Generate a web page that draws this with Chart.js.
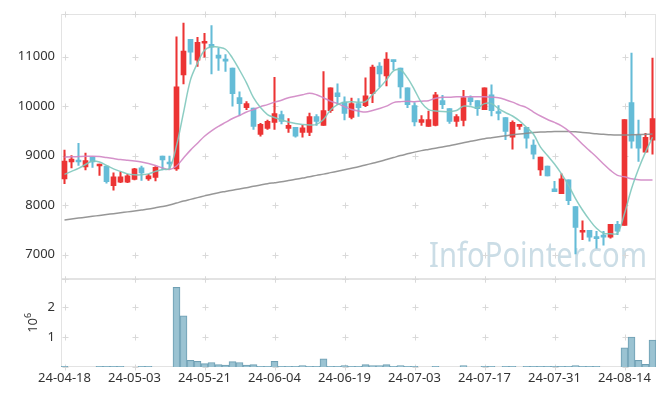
<!DOCTYPE html>
<html>
<head>
<meta charset="utf-8">
<script src="https://cdn.jsdelivr.net/npm/chart.js@4.4.1/dist/chart.umd.min.js"></script>
<style>
  html, body { margin: 0; padding: 0; background: #fff; }
  #wrap { width: 665px; height: 396px; }
</style>
</head>
<body>
<div id="wrap"><canvas id="stockChart" width="665" height="396"></canvas></div>
<script>
const dates = [
  '24-04-18','24-04-19','24-04-22','24-04-23','24-04-24','24-04-25','24-04-26','24-04-29','24-04-30','24-05-02',
  '24-05-03','24-05-07','24-05-08','24-05-09','24-05-10','24-05-13','24-05-14','24-05-16','24-05-17','24-05-20',
  '24-05-21','24-05-22','24-05-23','24-05-24','24-05-27','24-05-28','24-05-29','24-05-30','24-05-31','24-06-03',
  '24-06-04','24-06-05','24-06-07','24-06-10','24-06-11','24-06-12','24-06-13','24-06-14','24-06-17','24-06-18',
  '24-06-19','24-06-20','24-06-21','24-06-24','24-06-25','24-06-26','24-06-27','24-06-28','24-07-01','24-07-02',
  '24-07-03','24-07-04','24-07-05','24-07-08','24-07-09','24-07-10','24-07-11','24-07-12','24-07-15','24-07-16',
  '24-07-17','24-07-18','24-07-19','24-07-22','24-07-23','24-07-24','24-07-25','24-07-26','24-07-29','24-07-30',
  '24-07-31','24-08-01','24-08-02','24-08-05','24-08-06','24-08-07','24-08-08','24-08-09','24-08-12','24-08-13',
  '24-08-14','24-08-16','24-08-19','24-08-20','24-08-21'
];

const opens = [
  8530, 8870, 8910, 8770, 8970, 8790, 8790, 8390, 8460, 8460,
  8520, 8750, 8530, 8560, 8990, 8870, 8730, 10630, 11350, 10930,
  11270, 11250, 11030, 10930, 10770, 10170, 9970, 9960, 9430, 9550,
  9670, 9830, 9550, 9570, 9470, 9470, 9790, 9610, 9910, 10270,
  10080, 9770, 10050, 10010, 10250, 10810, 10610, 10930, 10770, 10370,
  10010, 9670, 9590, 9610, 10110, 9950, 9690, 9710, 10170, 10110,
  9930, 10230, 9880, 9770, 9370, 9590, 9570, 9210, 8710, 8790,
  8330, 8230, 8510, 7970, 7450, 7490, 7330, 7390, 7350, 7610,
  7590, 10070, 9410, 9070, 9310
];
const highs = [
  9110, 9000, 9250, 9050, 8970, 8830, 8790, 8650, 8670, 8620,
  8740, 8790, 8620, 8780, 8990, 8990, 11400, 11680, 11350, 11390,
  11470, 11630, 11170, 11040, 10770, 10290, 10090, 9960, 9650, 9720,
  10580, 9900, 9750, 9570, 9610, 9860, 9830, 10700, 10370, 10450,
  10190, 10160, 10150, 10570, 10830, 10880, 11080, 10930, 10770, 10370,
  10070, 9810, 9900, 10280, 10220, 9950, 9830, 10320, 10210, 10110,
  10370, 10430, 10010, 9770, 9700, 9630, 9570, 9320, 8970, 8790,
  8480, 8630, 8510, 7970, 7680, 7490, 7470, 7470, 7610, 7670,
  9730, 11070, 9720, 9450, 10970
];
const lows = [
  8430, 8750, 8800, 8710, 8760, 8600, 8440, 8300, 8450, 8450,
  8510, 8500, 8500, 8490, 8710, 8730, 8700, 10450, 10850, 10800,
  10990, 10650, 10720, 10700, 10000, 9810, 9930, 9530, 9390, 9530,
  9530, 9640, 9470, 9370, 9370, 9400, 9610, 9610, 9870, 10030,
  9720, 9740, 9790, 9990, 10070, 10390, 10410, 10730, 10160, 9970,
  9600, 9610, 9590, 9600, 9950, 9650, 9590, 9600, 10020, 9810,
  9930, 9800, 9720, 9320, 9130, 9530, 9150, 8930, 8600, 8590,
  8270, 8230, 8010, 7010, 7300, 7270, 7130, 7190, 7330, 7400,
  7590, 9150, 8880, 9070, 9030
];
const closes = [
  8890, 8930, 8870, 8900, 8870, 8830, 8470, 8570, 8570, 8590,
  8730, 8650, 8590, 8760, 8910, 8830, 10390, 11110, 11090, 11290,
  11310, 11190, 10970, 10910, 10250, 10050, 10050, 9590, 9630, 9690,
  9850, 9690, 9610, 9390, 9560, 9790, 9690, 9910, 10370, 10190,
  9850, 10050, 9970, 10210, 10790, 10650, 10950, 10900, 10390, 10030,
  9680, 9730, 9730, 10230, 10030, 9690, 9790, 10170, 10090, 9950,
  10370, 9910, 9850, 9490, 9670, 9630, 9350, 9030, 8970, 8590,
  8270, 8530, 8090, 7550, 7490, 7350, 7320, 7350, 7610, 7470,
  9730, 9290, 9150, 9370, 9750
];
const volumes = [
  20000, 0, 0, 0, 0, 20000, 20000, 20000, 20000, 0,
  0, 20000, 20000, 0, 0, 0, 2660000, 1710000, 220000, 190000,
  110000, 150000, 80000, 60000, 180000, 150000, 60000, 80000, 20000, 20000,
  190000, 20000, 20000, 20000, 50000, 20000, 20000, 270000, 20000, 20000,
  50000, 20000, 20000, 80000, 50000, 50000, 80000, 20000, 50000, 20000,
  20000, 0, 0, 20000, 0, 0, 0, 50000, 0, 0,
  20000, 20000, 0, 20000, 20000, 0, 20000, 20000, 20000, 20000,
  20000, 20000, 20000, 50000, 20000, 20000, 20000, 0, 0, 0,
  640000, 1000000, 220000, 90000, 900000
];
const ma5 = [
  8620, 8680, 8740, 8820, 8890, 8870, 8800, 8730, 8680, 8630,
  8610, 8610, 8630, 8680, 8720, 8740, 9200, 9870, 10530, 10870,
  11130, 11200, 11190, 11150, 10970, 10730, 10470, 10170, 9970, 9830,
  9770, 9720, 9680, 9650, 9630, 9620, 9630, 9730, 9920, 10030,
  10080, 10090, 10080, 10090, 10230, 10370, 10530, 10710, 10730, 10570,
  10330, 10070, 9930, 9900, 9890, 9890, 9910, 10000, 9990, 9970,
  10050, 10050, 9950, 9870, 9800, 9700, 9570, 9430, 9170, 9000,
  8830, 8630, 8400, 8130, 7900, 7700, 7530, 7430, 7420, 7430,
  7830, 8330, 8730, 9070, 9370
];
const ma20 = [
  8966, 8975, 8980, 8985, 8986, 8980, 8960, 8940, 8920, 8905,
  8890, 8870, 8840, 8800, 8750, 8720, 8790, 8950, 9110, 9250,
  9390, 9500, 9590, 9670, 9750, 9810, 9880, 9930, 9990, 10030,
  10080, 10120, 10170, 10200, 10230, 10260, 10230, 10170, 10100, 10050,
  9990, 9930, 9900, 9880, 9910, 9950, 10000, 10070, 10090, 10100,
  10090, 10100, 10110, 10160, 10180, 10180, 10190, 10190, 10190, 10190,
  10190, 10180, 10170, 10130, 10080, 10020, 9970, 9880, 9800, 9730,
  9670, 9600, 9500, 9370, 9230, 9100, 8970, 8830, 8700, 8600,
  8570, 8530, 8510, 8505, 8505
];
const ma60 = [
  7700, 7718, 7736, 7754, 7772, 7790, 7808, 7826, 7844, 7862,
  7880, 7900, 7920, 7945, 7970, 8000, 8040, 8080, 8115, 8150,
  8185, 8220, 8250, 8275, 8300, 8325, 8350, 8380, 8405, 8430,
  8450, 8470, 8495, 8520, 8545, 8570, 8600, 8625, 8655, 8685,
  8715, 8745, 8775, 8810, 8845, 8880, 8920, 8960, 9000, 9035,
  9070, 9100, 9125, 9150, 9175, 9200, 9230, 9260, 9290, 9315,
  9340, 9360, 9380, 9400, 9420, 9435, 9450, 9465, 9475, 9480,
  9485, 9488, 9488, 9480, 9468, 9455, 9440, 9430, 9420, 9415,
  9415, 9420, 9425, 9430, 9435
];

const priceTicks = [7000, 8000, 9000, 10000, 11000];
const volumeTicks = [1000000, 2000000];

const UP = '#ec3434';
const DOWN = '#65bcd7';
const candleColors = opens.map((o, i) => closes[i] >= o ? UP : DOWN);

Chart.defaults.font.family = "'Noto Sans', sans-serif";
Chart.defaults.font.size = 13;
Chart.defaults.color = '#333';

// frame, "+" grid marks and watermark
const decor = {
  id: 'decor',
  beforeDatasetsDraw(chart) {
    const { ctx, chartArea: a, scales } = chart;
    const x = scales.x, y = scales.y, yv = scales.yv;
    ctx.save();

    ctx.fillStyle = '#cbdde6';
    ctx.font = '34px "Noto Sans"';
    ctx.textBaseline = 'alphabetic';
    ctx.fillText('InfoPointer.com', a.right - 227, y.bottom - 12, 218);

    ctx.strokeStyle = '#e3e3e3';
    ctx.lineWidth = 1;
    const L = Math.round(a.left) + 0.5, R = Math.round(a.right) - 0.5;
    [y, yv].forEach(s => {
      ctx.strokeRect(L, Math.round(s.top) + 0.5, R - L, Math.round(s.bottom) - Math.round(s.top) - 1);
    });

    ctx.strokeStyle = '#d9d9d9';
    const xs = [];
    for (let i = 0; i < dates.length; i += 10) xs.push(x.getPixelForValue(i));
    const marks = (s) => {
      const ys = s.ticks.map(t => s.getPixelForValue(t.value));
      ys.push(s.top, s.bottom);
      xs.forEach(px => ys.forEach(py => {
        const cx = Math.round(px) + 0.5, cy = Math.round(py) + 0.5;
        ctx.beginPath();
        ctx.moveTo(cx - 3, cy); ctx.lineTo(cx + 3, cy);
        ctx.moveTo(cx, cy - 3); ctx.lineTo(cx, cy + 3);
        ctx.stroke();
      }));
    };
    marks(y);
    marks(yv);
    ctx.restore();
  },
  afterDraw(chart) {
    const { ctx, scales: { yv } } = chart;
    ctx.save();
    ctx.translate(32, (yv.top + yv.bottom) / 2);
    ctx.rotate(-Math.PI / 2);
    ctx.fillStyle = '#333';
    ctx.font = '13px "Noto Sans"';
    const w1 = ctx.measureText('10').width;
    ctx.font = '9px "Noto Sans"';
    const w2 = ctx.measureText('6').width;
    ctx.textBaseline = 'alphabetic';
    ctx.font = '13px "Noto Sans"';
    ctx.fillText('10', -(w1 + w2) / 2, 5);
    ctx.font = '9px "Noto Sans"';
    ctx.fillText('6', -(w1 + w2) / 2 + w1, -1);
    ctx.restore();
  }
};

new Chart(document.getElementById('stockChart'), {
  type: 'bar',
  data: {
    labels: dates,
    datasets: [
      {
        type: 'line', label: 'MA5', data: ma5, yAxisID: 'y', order: 0,
        borderColor: 'rgba(128,200,188,0.9)', borderWidth: 1.5, pointRadius: 0, tension: 0.35
      },
      {
        type: 'line', label: 'MA20', data: ma20, yAxisID: 'y', order: 0,
        borderColor: 'rgba(208,134,196,0.9)', borderWidth: 1.5, pointRadius: 0, tension: 0.35
      },
      {
        type: 'line', label: 'MA60', data: ma60, yAxisID: 'y', order: 0,
        borderColor: 'rgba(140,140,140,0.9)', borderWidth: 1.5, pointRadius: 0, tension: 0.35
      },
      {
        label: 'body', data: opens.map((o, i) => [o, closes[i]]), yAxisID: 'y', order: 1,
        backgroundColor: candleColors, barThickness: 5, grouped: false, minBarLength: 2
      },
      {
        label: 'wick', data: lows.map((l, i) => [l, highs[i]]), yAxisID: 'y', order: 2,
        backgroundColor: candleColors, barThickness: 1.4, grouped: false
      },
      {
        label: 'volume', data: volumes, yAxisID: 'yv', order: 3,
        backgroundColor: 'rgba(150,192,208,0.95)', borderColor: '#6f9fb3', borderWidth: 1,
        barPercentage: 1, categoryPercentage: 1, grouped: false
      }
    ]
  },
  options: {
    responsive: false,
    animation: false,
    layout: { padding: { top: 10, right: 9, left: 0, bottom: 0 } },
    plugins: {
      legend: { display: false },
      tooltip: { enabled: false }
    },
    scales: {
      x: {
        type: 'category',
        offset: true,
        grid: { display: false, drawTicks: false },
        border: { display: false },
        ticks: {
          autoSkip: false, maxRotation: 0, minRotation: 0, padding: 3,
          color: '#333',
          callback: function (val, idx) { return idx % 10 === 0 ? this.getLabelForValue(val) : ''; }
        },
        afterFit: (s) => { s.height = 29; }
      },
      yv: {
        position: 'left', stack: 'panes', stackWeight: 1,
        min: 0, max: 2945000,
        grid: { display: false, drawTicks: false },
        border: { display: false },
        ticks: { padding: 6, color: '#333', callback: (v) => String(v / 1000000) },
        afterBuildTicks: (s) => { s.ticks = volumeTicks.map(v => ({ value: v })); },
        afterFit: (s) => { s.width = 61; }
      },
      y: {
        position: 'left', stack: 'panes', stackWeight: 3,
        min: 6511, max: 11866,
        grid: { display: false, drawTicks: false },
        border: { display: false },
        ticks: { padding: 6, color: '#333', callback: (v) => String(v) },
        afterBuildTicks: (s) => { s.ticks = priceTicks.map(v => ({ value: v })); },
        afterFit: (s) => { s.width = 61; }
      }
    }
  },
  plugins: [decor]
});
</script>
</body>
</html>
